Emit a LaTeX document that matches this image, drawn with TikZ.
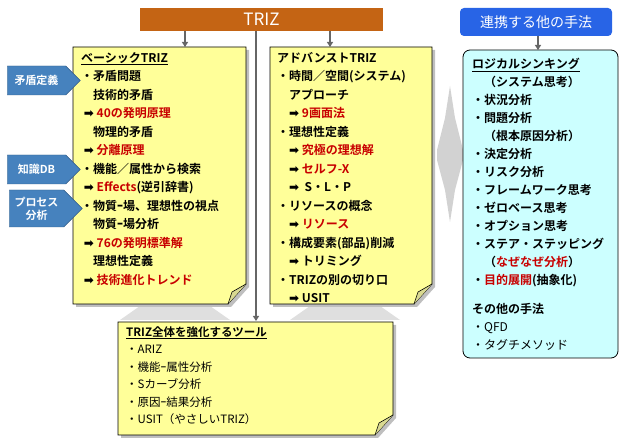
\documentclass[tikz,border=0pt]{standalone}
\usepackage{fontspec}
\setmainfont{Noto Sans CJK JP}[BoldFont={Noto Sans CJK JP Bold}]
\newfontfamily\djv{DejaVu Sans}
\usetikzlibrary{shapes.arrows,shapes.symbols,arrows.meta}
\definecolor{note}{RGB}{255,255,153}
\definecolor{rd}{RGB}{200,0,0}
\definecolor{org}{RGB}{196,100,20}
\definecolor{bl}{RGB}{40,100,230}
\definecolor{cy}{RGB}{204,255,255}
\definecolor{sb}{RGB}{70,130,190}
\newcommand{\ar}{{\djv\char"27A1}\ }
\newcommand{\rt}[1]{\textcolor{rd}{#1}}
\begin{document}
\begin{tikzpicture}[x=1pt,y=-1pt,
  txt/.style={anchor=north west,align=left,inner sep=0pt,font=\fontsize{12}{18.5}\selectfont\bfseries},
  gl/.style={draw=gray!80!black,line width=1.5pt,-{Triangle[length=5pt,width=6pt]}},
  side/.style={signal,signal to=east,fill=sb,draw=sb!70!black,text=white,minimum width=73pt,font=\fontsize{11}{13}\selectfont\bfseries,align=center,inner sep=1pt}]
\useasboundingbox (0,0) rectangle (622,446);
\newcommand{\notebox}[5]{% x1,y1,x2,y2,name
 \fill[gray!50] (#1+3,#2+3) -- (#3+3,#2+3) -- (#3+3,#4-17) -- (#3-15,#4+3) -- (#1+3,#4+3) -- cycle;
 \draw[fill=note,line width=0.8pt] (#1,#2) -- (#3,#2) -- (#3,#4-20) -- (#3-18,#4) -- (#1,#4) -- cycle;
 \draw[fill=note!70!gray,line width=0.6pt] (#3,#4-20) -- (#3-14,#4-12) -- (#3-18,#4) ;
 \coordinate (#5) at (#1,#2);}
\node[fill=org,minimum width=243pt,minimum height=23pt,inner sep=0pt,text=white,font=\fontsize{17}{17}\selectfont] (triz) at (261.5,19.5) {TRIZ};
\node[fill=bl,rounded corners=4pt,minimum width=152pt,minimum height=28pt,inner sep=0pt,text=white,font=\fontsize{14}{14}\selectfont] (other) at (536,22) {連携する他の手法};
\coordinate (a1) at (185,31); \coordinate (a1e) at (185,47);
\coordinate (a2) at (330,31); \coordinate (a2e) at (330,47);
\coordinate (a3) at (256,31); \coordinate (a3e) at (256,321);
\coordinate (a4) at (538,36); \coordinate (a4e) at (538,50);
\draw[gl] (a1) -- (a1e);
\draw[gl] (a2) -- (a2e);
\draw[gl] (a3) -- (a3e);
\draw[gl] (a4) -- (a4e);
\fill[gray!25] (120,320) -- (140,306) -- (210,306) -- (230,320) -- cycle;
\fill[gray!25] (290,320) -- (310,306) -- (380,306) -- (400,320) -- cycle;
\fill[gray!35] (450,86) -- (455,118) -- (463,150) -- (463,160) -- (455,190) -- (450,222) -- (445,190) -- (437,160) -- (437,150) -- (445,118) -- cycle;
\notebox{73}{47}{246}{304}{basic}
\notebox{270}{47}{432}{304}{adv}
\notebox{118}{322}{393}{435}{tool}
\draw[fill=cy,rounded corners=7pt,line width=0.8pt] (463,50) rectangle (618,358);
\coordinate (logic) at (463,50);
\node[side,minimum height=29pt] (s1) at (36.5,80.5) {矛盾定義};
\node[side,minimum height=29pt] (s2) at (36.5,169.5) {知識DB};
\node[side,minimum height=37pt] (s3) at (36.5,208.5) {プロセス\\分析};
\node[txt] (tb) at (81,52) {\underline{ベーシックTRIZ}\\
・矛盾問題\\
\quad 技術的矛盾\\
\ \ar\rt{40の発明原理}\\
\quad 物理的矛盾\\
\ \ar\rt{分離原理}\\
・機能／属性から検索\\
\ \ar\rt{Effects}(逆引辞書)\\
・物質ｰ場、理想性の視点\\
\quad 物質ｰ場分析\\
\ \ar\rt{76の発明標準解}\\
\quad 理想性定義\\
\ \ar\rt{技術進化トレンド}};
\node[txt] (ta) at (277,52) {アドバンストTRIZ\\
・時間／空間(システム)\\
\quad アプローチ\\
\quad\ar\rt{9画面法}\\
・理想性定義\\
\quad\ar\rt{究極の理想解}\\
\quad\ar\rt{セルフ-X}\\
\quad\ar\ S・L・P\\
・リソースの概念\\
\quad\ar\rt{リソース}\\
・構成要素(部品)削減\\
\quad\ar トリミング\\
・TRIZの別の切り口\\
\quad\ar USIT};
\node[txt,font=\fontsize{12}{18}\selectfont\bfseries] (tl) at (472,58) {\underline{ロジカルシンキング}\\
\quad（システム思考）\\
・状況分析\\
・問題分析\\
\quad（根本原因分析）\\
・決定分析\\
・リスク分析\\
・フレームワーク思考\\
・ゼロベース思考\\
・オプション思考\\
・ステア・ステッピング\\
\quad（\rt{なぜなぜ分析}）\\
・\rt{目的展開}(抽象化)};
\node[txt,font=\fontsize{12}{18}\selectfont\bfseries] (to) at (472,303) {その他の手法\\
\mdseries ・QFD\\
\mdseries ・タグチメソッド};
\node[txt,font=\fontsize{11.5}{17.5}\selectfont\mdseries] (tt) at (126,326) {\textbf{\underline{TRIZ全体を強化するツール}}\\
・ARIZ\\
・機能ｰ属性分析\\
・Sカーブ分析\\
・原因ｰ結果分析\\
・USIT（やさしいTRIZ）};
\end{tikzpicture}
\end{document}
